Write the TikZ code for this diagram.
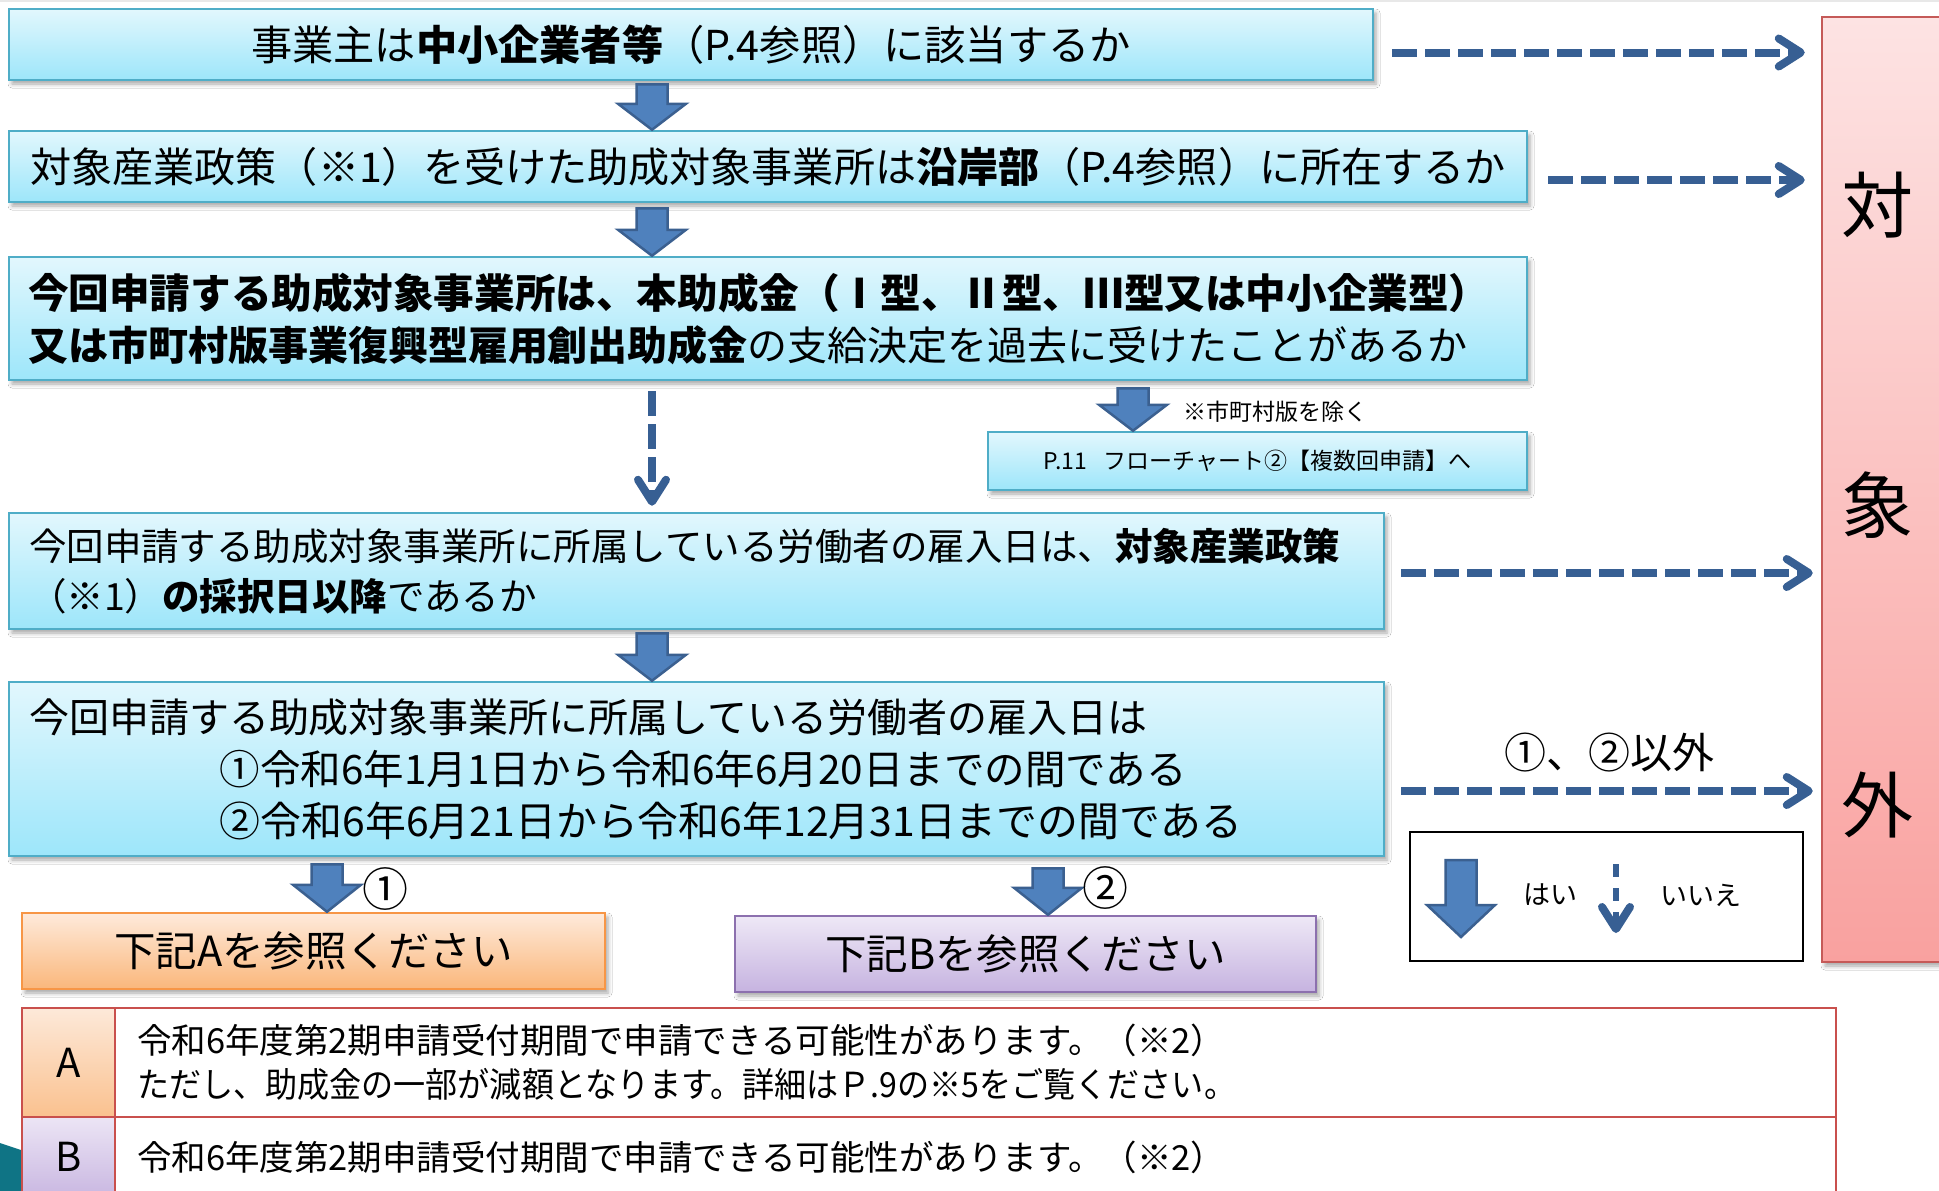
\documentclass[tikz,border=0pt]{standalone}
\usepackage{fontspec}
\setmainfont{Noto Sans CJK JP}
\usetikzlibrary{calc,arrows.meta,shadows.blur}
\definecolor{cyTop}{HTML}{E2F7FD}
\definecolor{cyBot}{HTML}{9DE6FA}
\definecolor{cyEdge}{HTML}{4FADC7}
\definecolor{orTop}{HTML}{FEEADB}
\definecolor{orBot}{HTML}{FAB77B}
\definecolor{orEdge}{HTML}{F79646}
\definecolor{puTop}{HTML}{EEE8F6}
\definecolor{puBot}{HTML}{C6B3E0}
\definecolor{puEdge}{HTML}{8C70AE}
\definecolor{pkTop}{HTML}{FDE3E3}
\definecolor{pkBot}{HTML}{F9A19F}
\definecolor{pkEdge}{HTML}{C55A58}
\definecolor{caTop}{HTML}{FDE9D9}
\definecolor{caBot}{HTML}{FAC18F}
\definecolor{cbTop}{HTML}{ECE5F5}
\definecolor{cbBot}{HTML}{C9B7E1}
\definecolor{tblEdge}{HTML}{C9504D}
\definecolor{arFill}{HTML}{4F81BD}
\definecolor{arEdge}{HTML}{3B6090}
\definecolor{dashCol}{HTML}{375F93}
\definecolor{tealCol}{HTML}{0F7485}
\newcommand\barrow[3][26]{%
  \draw[blockarrow] ($(#2)+(-15.5,0)$) -- ($(#2)+(15.5,0)$) -- ($(#3)+(15.5,-#1)$)
    -- ($(#3)+(34,-#1)$) -- (#3) -- ($(#3)+(-34,-#1)$) -- ($(#3)+(-15.5,-#1)$) -- cycle;}
\begin{document}
\begin{tikzpicture}[x=1pt,y=-1pt,
  shadowed/.style={blur shadow={shadow xshift=3pt,shadow yshift=-4pt,shadow blur radius=4pt,shadow opacity=35}},
  cybox/.style={shadowed,draw=cyEdge,line width=2.5pt,top color=cyTop,bottom color=cyBot,inner sep=0pt,
     font=\fontsize{40}{52}\selectfont},
  orbox/.style={shadowed,draw=orEdge,line width=2.5pt,top color=orTop,bottom color=orBot,inner sep=0pt,
     font=\fontsize{41.5}{52}\selectfont},
  pubox/.style={shadowed,draw=puEdge,line width=2.5pt,top color=puTop,bottom color=puBot,inner sep=0pt,
     font=\fontsize{41.5}{52}\selectfont},
  blockarrow/.style={draw=arEdge,fill=arFill,line width=2.5pt,line join=miter},
  dasharrow/.style={draw=dashCol,line width=8pt,dash pattern=on 25pt off 8pt,
     -{Straight Barb[length=22pt,width=28pt,line width=8pt,round]}},
  tcell/.style={draw=tblEdge,line width=2pt,inner sep=0pt},
  lbl/.style={inner sep=0pt}]
\useasboundingbox (0,0) rectangle (1939,1191);
\fill[white] (0,0) rectangle (1939,1191);
\fill[black!9] (0,0) rectangle (1939,1.5);
% decorative corner
\fill[tealCol] (0,1143) -- (24,1151) -- (24,1191) -- (0,1191) -- cycle;
% side box
\node[shadowed,draw=pkEdge,line width=2.5pt,top color=pkTop,bottom color=pkBot,
  minimum width=128pt,minimum height=945pt,inner sep=0pt] (side) at (1886,489.5) {};
\node[lbl,font=\fontsize{72}{300}\selectfont,align=center] (sidetxt) at (1877,505) {対\\象\\外};
% flow boxes
\node[cybox,minimum width=1364pt,minimum height=71pt,font=\fontsize{41.2}{52}\selectfont] (b1) at (691,44.5)
  {事業主は\textbf{中小企業者等}（P.4参照）に該当するか};
\node[cybox,minimum width=1518pt,minimum height=71pt,font=\fontsize{41.1}{52}\selectfont] (b2) at (768,166.5)
  {対象産業政策（※1）を受けた助成対象事業所は\textbf{沿岸部}（P.4参照）に所在するか};
\node[cybox,minimum width=1518pt,minimum height=123pt,text width=1480pt,align=left] (b3) at (768,318.5)
  {\textbf{\fontsize{40.6}{52}\selectfont 今回申請する助成対象事業所は、本助成金（Ⅰ型、Ⅱ型、Ⅲ型又は中小企業型）}\\
   \textbf{又は市町村版事業復興型雇用創出助成金}の支給決定を過去に受けたことがあるか};
\node[cybox,minimum width=539pt,minimum height=58pt,font=\fontsize{23}{28}\selectfont] (p11) at (1257.5,461)
  {P.11\hspace{0.7em}フローチャート②【複数回申請】へ};
\node[lbl,font=\fontsize{23}{28}\selectfont] (note) at (1275,412) {※市町村版を除く};
\node[cybox,minimum width=1375pt,minimum height=116pt,text width=1335pt,align=left,
  font=\fontsize{37.5}{50}\selectfont] (b4) at (696.5,571)
  {今回申請する助成対象事業所に所属している労働者の雇入日は、\textbf{対象産業政策}\\
   （※1）\textbf{の採択日以降}であるか};
\node[cybox,minimum width=1375pt,minimum height=174pt,text width=1335pt,align=left] (b5) at (696.5,769)
  {今回申請する助成対象事業所に所属している労働者の雇入日は\\
   \hspace*{191pt}{\fontsize{40.5}{52}\selectfont ①令和6年1月1日から令和6年6月20日までの間である}\\
   \hspace*{191pt}{\fontsize{40.9}{52}\selectfont ②令和6年6月21日から令和6年12月31日までの間である}};
\node[orbox,minimum width=583pt,minimum height=76pt] (ba) at (313.5,951) {下記Aを参照ください};
\node[pubox,minimum width=581pt,minimum height=76pt] (bb) at (1025.5,954) {下記Bを参照ください};
% block arrows
\coordinate (ax) at (652,0);
\coordinate (px) at (1133,0);
\coordinate (ox) at (327,0);
\coordinate (tx) at (1048,0);
\coordinate (t1) at ($(b1.south -| ax)+(0,3)$);
\coordinate (t2) at ($(b2.south -| ax)+(0,5)$);
\coordinate (t3) at ($(b3.south -| px)+(0,7)$);
\coordinate (t4) at ($(b4.south -| ax)+(0,3)$);
\coordinate (t5) at ($(b5.south -| ox)+(0,7)$);
\coordinate (t6) at ($(b5.south -| tx)+(0,11)$);
\barrow{t1}{b2.north -| ax}
\barrow{t2}{b3.north -| ax}
\barrow{t3}{p11.north -| px}
\barrow{t4}{b5.north -| ax}
\barrow[27]{t5}{ba.north -| ox}
\barrow[27]{t6}{bb.north -| tx}
\node[lbl,font=\fontsize{46}{50}\selectfont] (n1) at (385,889) {①};
\node[lbl,font=\fontsize{46}{50}\selectfont] (n2) at (1105,888) {②};
% dashed "no" arrows
\draw[dasharrow] ($(b1.east)+(18,8)$) -- ($(b1.east -| side.west)+(-16,8)$);
\draw[dasharrow] ($(b2.east)+(20,13.5)$) -- ($(b2.east -| side.west)+(-16,13.5)$);
\draw[dasharrow] ($(b4.east)+(16,2)$) -- ($(b4.east -| side.west)+(-8,2)$);
\draw[dasharrow] ($(b5.east)+(16,22)$) -- ($(b5.east -| side.west)+(-8,22)$);
\draw[dasharrow] ($(b3.south -| ax)+(0,10)$) -- ($(b4.north -| ax)+(0,-6)$);
\node[lbl,font=\fontsize{42}{50}\selectfont] (other) at (1609,753) {①、②以外};
% legend
\node[draw=black,line width=2pt,minimum width=393pt,minimum height=129pt,inner sep=0pt] (legend) at (1606,896.5) {};
\coordinate (lg1) at (1461,860);
\coordinate (lg2) at (1461,937);
\barrow[32]{lg1}{lg2}
\node[lbl,font=\fontsize{27}{30}\selectfont] (yes) at (1550,895) {はい};
\coordinate (lg3) at (1616,864);
\coordinate (lg4) at (1616,933);
\draw[dasharrow,line width=6pt,dash pattern=on 13pt off 11pt] (lg3) -- (lg4);
\node[lbl,font=\fontsize{27}{30}\selectfont] (no) at (1701,895) {いいえ};
% table
\node[tcell,top color=caTop,bottom color=caBot,minimum width=93pt,minimum height=109pt,
  font=\fontsize{40}{48}\selectfont] (ca) at (68.5,1062.5) {A};
\node[tcell,minimum width=1721pt,minimum height=109pt,text width=1677pt,align=left,
  font=\fontsize{34.5}{44}\selectfont] (ra) at (975.5,1062.5)
  {令和6年度第2期申請受付期間で申請できる可能性があります。（※2）\\
   \scalebox{0.93}[1]{ただし、助成金の一部が減額となります。詳細はＰ.9の※5をご覧ください。}};
\node[tcell,top color=cbTop,bottom color=cbBot,minimum width=93pt,minimum height=80pt,
  font=\fontsize{40}{48}\selectfont] (cb) at (68.5,1157) {B};
\node[tcell,minimum width=1721pt,minimum height=80pt,text width=1677pt,align=left,
  font=\fontsize{34.5}{44}\selectfont] (rb) at (975.5,1157)
  {令和6年度第2期申請受付期間で申請できる可能性があります。（※2）};
\end{tikzpicture}
\end{document}
